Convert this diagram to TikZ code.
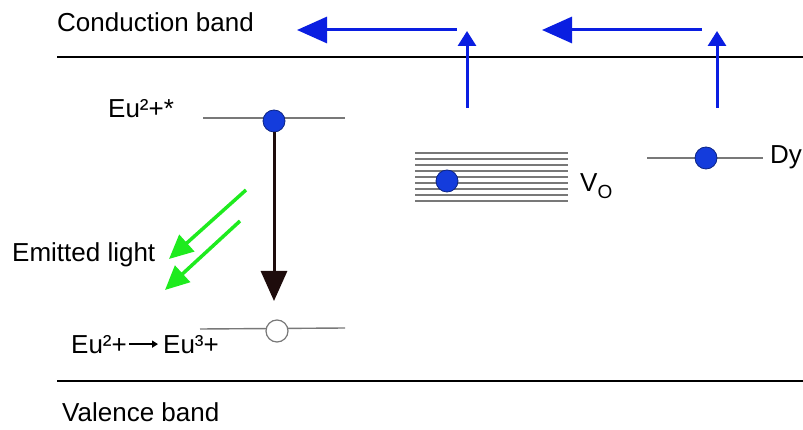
\documentclass[tikz,border=0pt]{standalone}
\usepackage{fontspec}
\setmainfont{Liberation Sans}
\usetikzlibrary{arrows.meta}
\definecolor{dotblue}{RGB}{20,60,220}
\definecolor{arrblue}{RGB}{10,30,225}
\definecolor{lgreen}{RGB}{30,235,30}
\definecolor{lvlgray}{RGB}{120,120,120}
\definecolor{darkarr}{RGB}{30,12,12}
\begin{document}
\begin{tikzpicture}[x=1pt,y=-1pt,
  lbl/.style={font=\fontsize{26}{31}\selectfont, inner sep=0pt, anchor=base west},
  band/.style={line width=2pt, black},
  level/.style={line width=1.4pt, lvlgray},
  edot/.style={circle, fill=dotblue, draw=dotblue!60!black, line width=0.8pt, minimum size=22pt, inner sep=0pt},
  hole/.style={circle, fill=white, draw=lvlgray, line width=1.2pt, minimum size=22pt, inner sep=0pt},
  bluev/.style={arrblue, line width=3pt, -{Triangle[length=15pt,width=18pt]}},
  blueh/.style={arrblue, line width=3pt, -{Triangle[length=30pt,width=26pt]}},
  greenarr/.style={lgreen, line width=3.5pt, -{Triangle[length=24pt,width=22pt]}},
  blackarr/.style={darkarr, line width=3pt, -{Triangle[length=30pt,width=26pt]}},
  smallarr/.style={black, line width=2.4pt, -{Triangle[length=6pt,width=7pt]}}
]
\useasboundingbox (0,0) rectangle (803,430);

% bands
\coordinate (cbL) at (57,57);
\coordinate (cbR) at (803,57);
\coordinate (vbL) at (57,381);
\coordinate (vbR) at (803,381);
\draw[band] (cbL) -- (cbR);
\draw[band] (vbL) -- (vbR);
\node[lbl] (cbtext) at (57,32) {Conduction band};
\node[lbl] (vbtext) at (62,421) {Valence band};

% Eu2+* level
\coordinate (e1L) at (203,118);
\coordinate (e1R) at (345,118);
\draw[level] (e1L) -- (e1R);
\node[edot] (d1) at (274,121) {};
\node[lbl] (eustar) at (108,118) {Eu²+*};

% lower level
\coordinate (e2L) at (200,329);
\coordinate (e2R) at (345,328);
\draw[level] (e2L) -- (e2R);
\node[hole] (h1) at (277,331) {};
\node[lbl] (eu2) at (71,353) {Eu²+};
\node[lbl] (eu3) at (163,353) {Eu³+};
\draw[smallarr, shorten <=2pt, shorten >=5pt] (eu2.east) -- (eu3.west);

% black transition arrow
\coordinate (ktip) at (274,301);
\draw[blackarr] (d1.south) -- (ktip);

% emitted light
\node[lbl] (emit) at (12,262) {Emitted light};
\coordinate (g1s) at (246,190);
\coordinate (g1e) at (169,259);
\coordinate (g2s) at (240,221);
\coordinate (g2e) at (165,290);
\draw[greenarr] (g1s) -- (g1e);
\draw[greenarr] (g2s) -- (g2e);

% Vo levels
\foreach \i in {0,...,8}{
  \draw[level] (415,{153+6*\i}) -- (568,{153+6*\i});
}
\node[edot] (d2) at (447,181) {};
\node[lbl] (vo) at (580,192) {V{\fontsize{19}{19}\selectfont\raisebox{-0.6ex}{O}}};

% Dy level
\coordinate (dyL) at (647,158);
\coordinate (dyR) at (763,158);
\draw[level] (dyL) -- (dyR);
\node[edot] (d3) at (706,158) {};
\node[lbl] (dy) at (770,164) {Dy};

% blue arrows
\coordinate (v1s) at (467,108);
\coordinate (v1e) at (467,31);
\coordinate (h1s) at (457,30);
\coordinate (h1e) at (297,30);
\coordinate (v2s) at (717,108);
\coordinate (v2e) at (717,31);
\coordinate (h2s) at (702,30);
\coordinate (h2e) at (542,30);
\draw[bluev] (v1s) -- (v1e);
\draw[bluev] (v2s) -- (v2e);
\draw[blueh] (h1s) -- (h1e);
\draw[blueh] (h2s) -- (h2e);
\end{tikzpicture}
\end{document}
